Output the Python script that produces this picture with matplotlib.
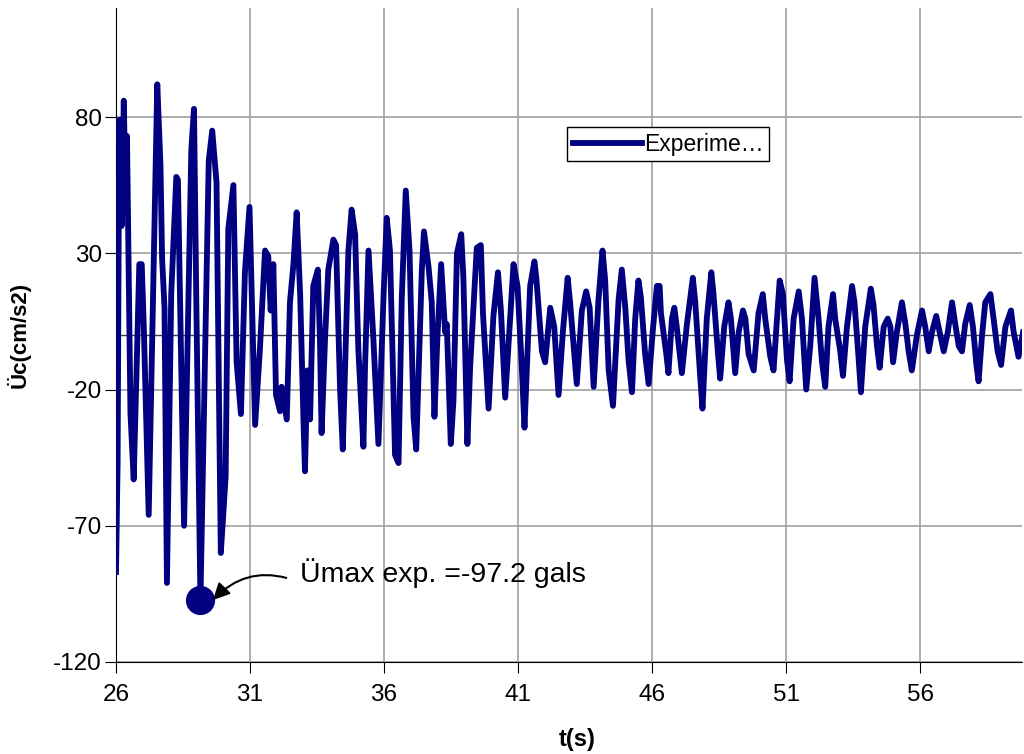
import matplotlib
matplotlib.use("Agg")
import matplotlib.pyplot as plt

# time (s) and acceleration (cm/s2) (extrema of trace)
time_s = [26.00, 26.06, 26.12, 26.21, 26.29, 26.34, 26.41, 26.54, 26.66, 26.87, 26.96, 27.04, 27.22,
          27.54, 27.66, 27.72, 27.81, 27.90, 28.06, 28.25, 28.31, 28.54, 28.81, 28.91, 29.00, 29.15,
          29.46, 29.59, 29.75, 29.91, 30.09, 30.19, 30.38, 30.50, 30.66, 30.81, 30.98,
          31.19, 31.37, 31.56, 31.68, 31.77, 31.87, 31.97, 32.12, 32.18, 32.37, 32.49, 32.62, 32.74,
          32.87, 32.99, 33.05, 33.14, 33.24, 33.36, 33.53, 33.61, 33.67, 33.80, 33.92, 34.11, 34.21,
          34.36, 34.46, 34.67, 34.79, 34.92, 35.04, 35.23, 35.29, 35.42, 35.60, 35.79, 35.98, 36.10,
          36.22, 36.41, 36.54, 36.66, 36.81, 36.95, 37.10, 37.20, 37.41, 37.49, 37.66, 37.78, 37.88,
          37.99, 38.13, 38.28, 38.34, 38.49, 38.59, 38.72, 38.88, 38.96, 39.11, 39.21, 39.46, 39.61,
          39.69, 39.90, 40.08, 40.25, 40.36, 40.52, 40.71, 40.83, 40.98, 41.14, 41.24, 41.45, 41.61,
          41.68, 41.89, 42.01, 42.20, 42.35, 42.51, 42.67, 42.85, 42.94, 43.19, 43.38, 43.54, 43.67,
          43.82, 44.00, 44.15, 44.25, 44.38, 44.54, 44.75, 44.87, 45.00, 45.12, 45.25, 45.37, 45.49,
          45.58, 45.74, 45.87, 46.03, 46.18, 46.28, 46.33, 46.53, 46.61, 46.74, 46.83, 46.92, 47.11,
          47.30, 47.52, 47.61, 47.80, 47.88, 48.04, 48.21, 48.29, 48.46, 48.54, 48.69, 48.85, 48.94,
          49.10, 49.23, 49.39, 49.48, 49.60, 49.79, 49.97, 50.13, 50.22, 50.41, 50.53, 50.66, 50.76,
          50.88, 51.03, 51.13, 51.28, 51.47, 51.59, 51.75, 51.90, 52.06, 52.21, 52.34, 52.46, 52.58,
          52.75, 52.83, 53.02, 53.12, 53.27, 53.46, 53.55, 53.70, 53.79, 53.95, 54.16, 54.26, 54.39,
          54.49, 54.64, 54.79, 54.89, 54.99, 55.13, 55.32, 55.45, 55.57, 55.69, 55.88, 56.07, 56.19,
          56.32, 56.44, 56.60, 56.73, 56.88, 57.03, 57.19, 57.31, 57.44, 57.56, 57.68, 57.85, 57.97,
          58.10, 58.18, 58.31, 58.43, 58.62, 58.74, 58.89, 59.02, 59.18, 59.39, 59.49, 59.67, 59.84]
accel = [-87, -47, 79, 40, 86, 60, 73, -29, -53, 26, 26, 2, -66,
         92, 62, 28, 10, -91, 15, 58, 57, -70, 68, 83, 9, -97.2,
         64, 75, 56, -80, -52, 39, 55, -10, -29, 23, 47,
         -33, -5, 31, 29, 9, 26, -22, -28, -19, -31, 12, 26, 45,
         15, -30, -50, -13, -31, 18, 24, -2, -36, -1, 24, 35, 33,
         -20, -42, 31, 46, 37, -5, -41, -12, 31, -1, -40, 14, 43,
         31, -44, -47, 13, 53, 31, -30, -42, 24, 38, 25, 12, -30,
         -1, 26, 1, 4, -40, -24, 30, 37, 21, -40, -12, 32, 33,
         8, -27, 7, 23, 9, -23, 7, 26, 18, -12, -34, 18, 27,
         21, -6, -10, 10, 3, -22, 1, 21, 12, -18, 9, 16, 10,
         -19, 13, 31, 20, -13, -26, 13, 24, 10, -9, -21, 6, 20,
         14, -7, -18, 2, 18, 18, 8, -7, -14, 6, 10, 3, -14,
         4, 21, 12, -16, -27, 6, 23, 15, -7, -16, 3, 12, 6,
         -14, 1, 9, 6, -7, -13, 8, 15, 6, -8, -13, 6, 20,
         15, -9, -17, 6, 16, 6, -20, -4, 21, 6, -10, -19, 3,
         15, 6, -6, -15, 3, 18, 12, -8, -21, 3, 17, 11, -4,
         -12, 3, 6, 3, -10, 1, 12, 4, -6, -13, 0, 9, 3,
         -6, 1, 7, 1, -6, 1, 12, 4, -4, -6, 4, 11, 3,
         -11, -17, 0, 12, 15, 6, -6, -11, 3, 9, 1, -8, 1]

peak_time = 29.15
peak_value = -97.2
x_ticks = [26, 31, 36, 41, 46, 51, 56]
y_ticks = [-120, -70, -20, 30, 80]
series_label = "Experime…"
annot_text = "Ümax exp. =-97.2 gals"

plt.rcParams['font.family'] = ['Liberation Sans', 'DejaVu Sans']
plt.rcParams['axes.unicode_minus'] = False
navy = '#000080'

fig = plt.figure(figsize=(10.24, 7.54), dpi=100)
ax = fig.add_axes([116/1024, 1-662/754, (1022-116)/1024, (662-8)/754])

ax.set_xlim(26, 59.8)
ax.set_ylim(-120, 120)
ax.set_xticks(x_ticks)
ax.set_yticks(y_ticks)
ax.grid(True, color='#a0a0a0', lw=1.2, zorder=0)
ax.axhline(0, color='#404040', lw=1.0, zorder=1)

ax.plot(time_s, accel, color=navy, lw=4.2, solid_joinstyle='round', label=series_label, zorder=3)
ax.plot([peak_time], [peak_value], 'o', color=navy, markersize=20, zorder=4)

ax.annotate(annot_text, xy=(peak_time + 0.4, peak_value - 0.8), xytext=(32.85, -87.5),
            fontsize=20.5, ha='left', va='center',
            arrowprops=dict(arrowstyle='-|>', color='black', lw=1.5, mutation_scale=25,
                            connectionstyle='arc3,rad=0.35', relpos=(0, 0.2), shrinkA=8, shrinkB=2),
            zorder=5)

for s in ['top', 'right']:
    ax.spines[s].set_visible(False)
ax.spines['left'].set_color('black')
ax.spines['bottom'].set_color('black')
ax.tick_params(labelsize=17.5, length=8, color='black')
ax.tick_params(axis='y', pad=2)
ax.tick_params(axis='x', pad=8)

ax.set_ylabel('Üc(cm/s2)', fontsize=16, fontweight='bold')
ax.yaxis.set_label_coords(-0.094, 0.5)
ax.set_xlabel('t(s)', fontsize=17, fontweight='bold', va='center')
ax.xaxis.set_label_coords(0.509, -0.119)

leg = ax.legend(loc='upper left', bbox_to_anchor=(0.498, 0.818), borderaxespad=0,
                fancybox=False, edgecolor='black', framealpha=1, fontsize=16.5,
                handlelength=3.0, handletextpad=0.1, borderpad=0.25)
leg.get_frame().set_linewidth(1.0)

fig.savefig('out.png', dpi=100)
